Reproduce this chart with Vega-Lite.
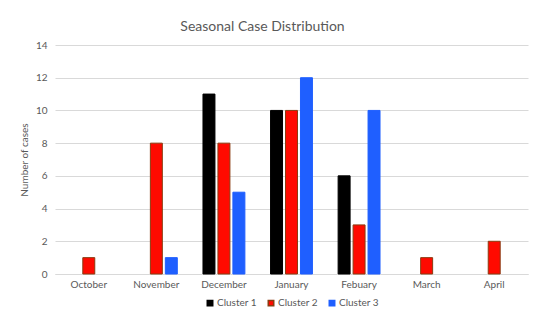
{
  "$schema": "https://vega.github.io/schema/vega-lite/v6.json",
  "autosize": "none",
  "width": 473,
  "height": 229,
  "padding": {"left": 55, "top": 45, "right": 22, "bottom": 54},
  "background": "white",
  "title": {
    "text": "Seasonal Case Distribution",
    "fontSize": 14,
    "font": "Lato",
    "fontWeight": "normal",
    "color": "#595959",
    "dx": -29,
    "offset": 6
  },
  "data": {
    "values": [
      {"month": "October", "cluster": "Cluster 2", "cases": 1},
      {"month": "November", "cluster": "Cluster 2", "cases": 8},
      {"month": "November", "cluster": "Cluster 3", "cases": 1},
      {"month": "December", "cluster": "Cluster 1", "cases": 11},
      {"month": "December", "cluster": "Cluster 2", "cases": 8},
      {"month": "December", "cluster": "Cluster 3", "cases": 5},
      {"month": "January", "cluster": "Cluster 1", "cases": 10},
      {"month": "January", "cluster": "Cluster 2", "cases": 10},
      {"month": "January", "cluster": "Cluster 3", "cases": 12},
      {"month": "Febuary", "cluster": "Cluster 1", "cases": 6},
      {"month": "Febuary", "cluster": "Cluster 2", "cases": 3},
      {"month": "Febuary", "cluster": "Cluster 3", "cases": 10},
      {"month": "March", "cluster": "Cluster 2", "cases": 1},
      {"month": "April", "cluster": "Cluster 2", "cases": 2}
    ]
  },
  "mark": {"type": "bar", "strokeWidth": 1},
  "encoding": {
    "x": {
      "field": "month",
      "type": "nominal",
      "sort": ["October", "November", "December", "January", "Febuary", "March", "April"],
      "scale": {"paddingInner": 0.38, "paddingOuter": 0.19},
      "axis": {
        "title": null,
        "labelAngle": 0,
        "ticks": false,
        "domain": true,
        "domainColor": "#d9d9d9",
        "labelPadding": 5,
        "labelFont": "Lato",
        "labelFontSize": 10,
        "labelColor": "#595959"
      }
    },
    "xOffset": {
      "field": "cluster",
      "type": "nominal",
      "scale": {"domain": ["Cluster 1", "Cluster 2", "Cluster 3"], "paddingInner": 0.2, "paddingOuter": 0}
    },
    "y": {
      "field": "cases",
      "type": "quantitative",
      "scale": {"domain": [0, 14]},
      "axis": {
        "title": "Number of cases",
        "values": [0, 2, 4, 6, 8, 10, 12, 14],
        "domain": false,
        "ticks": false,
        "gridColor": "#d9d9d9",
        "labelPadding": 8,
        "labelFont": "Lato",
        "labelFontSize": 10,
        "labelColor": "#595959",
        "titleFont": "Lato",
        "titleFontSize": 10,
        "titleFontWeight": "normal",
        "titleColor": "#595959",
        "titlePadding": 6
      }
    },
    "fill": {
      "field": "cluster",
      "type": "nominal",
      "scale": {"domain": ["Cluster 1", "Cluster 2", "Cluster 3"], "range": ["#000000", "#ff0a00", "#1f5fff"]},
      "legend": {
        "title": null,
        "orient": "none",
        "direction": "horizontal",
        "legendX": 150,
        "legendY": 253,
        "symbolType": "square",
        "symbolSize": 30,
        "labelFont": "Lato",
        "labelFontSize": 10,
        "labelColor": "#595959",
        "columnPadding": 8,
        "labelOffset": 2
      }
    },
    "stroke": {
      "field": "cluster",
      "type": "nominal",
      "scale": {"domain": ["Cluster 1", "Cluster 2", "Cluster 3"], "range": ["#000000", "#8a3b10", "#1f5fff"]},
      "legend": null
    }
  },
  "config": {"view": {"stroke": null}}
}
